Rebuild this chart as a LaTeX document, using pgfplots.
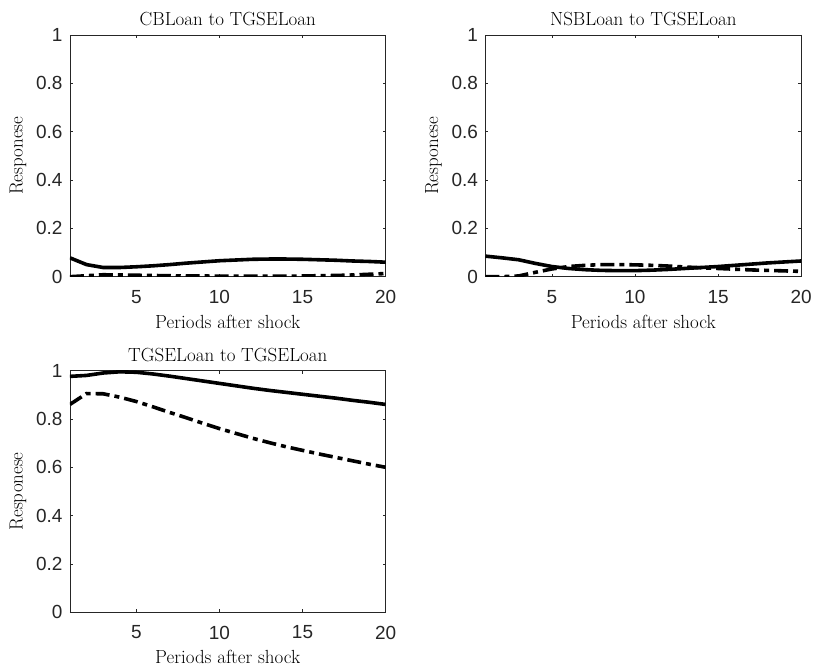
\documentclass[border=0pt]{standalone}
\usepackage{pgfplots}
\pgfplotsset{compat=1.18}
\usepackage{fontspec}
\newfontfamily\arial{Liberation Sans}
\definecolor{axgray}{RGB}{38,38,38}
\pgfplotsset{
  irf/.style={
    scale only axis, width=316pt, height=242pt, anchor=south west,
    xmin=1, xmax=20, ymin=0, ymax=1,
    xtick={5,10,15,20}, ytick={0,0.2,0.4,0.6,0.8,1},
    yticklabels={0,0.2,0.4,0.6,0.8,1},
    tick align=inside, major tick length=3pt,
    axis line style={axgray, line width=0.7pt},
    tick style={axgray, line width=0.6pt},
    /pgf/number format/assume math mode=true,
    tick label style={font=\arial\fontsize{19}{19}\selectfont, text=axgray},
    yticklabel style={xshift=-4pt},
    xticklabel style={yshift=-10pt},
    title style={font=\fontsize{19}{19}\selectfont, at={(rel axis cs:0.5,1)}, anchor=center, yshift=10pt},
    xlabel style={font=\fontsize{19}{19}\selectfont, at={(rel axis cs:0.5,0)}, anchor=center, yshift=-45pt},
    ylabel style={font=\fontsize{19}{19}\selectfont, at={(rel axis cs:0,0.5)}, anchor=center, yshift=52pt},
    xlabel={Periods after shock}, ylabel={Responese},
  },
  sol/.style={black, line width=3.6pt},
  dd/.style={black, line width=3.6pt, dash pattern=on 14pt off 5pt on 5pt off 5pt},
}
\begin{document}
\begin{tikzpicture}
\path (0pt,0pt) rectangle (815pt,666pt);
\begin{axis}[irf, at={(70pt,389pt)}, title={CBLoan to TGSELoan}]
\addplot[sol] coordinates {(1,0.078)(2,0.050)(3,0.038)(4,0.038)(5,0.041)(6,0.045)(7,0.050)(8,0.056)(9,0.061)(10,0.066)(11,0.069)(12,0.072)(13,0.073)(14,0.073)(15,0.072)(16,0.070)(17,0.068)(18,0.065)(19,0.063)(20,0.060)};
\addplot[dd] coordinates {(1,0.000)(2,0.004)(3,0.008)(4,0.007)(5,0.006)(6,0.005)(7,0.004)(8,0.003)(9,0.003)(10,0.002)(11,0.002)(12,0.002)(13,0.002)(14,0.002)(15,0.003)(16,0.004)(17,0.005)(18,0.007)(19,0.010)(20,0.013)};
\end{axis}
\begin{axis}[irf, at={(486pt,389pt)}, title={NSBLoan to TGSELoan}]
\addplot[sol] coordinates {(1,0.085)(2,0.078)(3,0.070)(4,0.055)(5,0.042)(6,0.034)(7,0.029)(8,0.026)(9,0.025)(10,0.025)(11,0.027)(12,0.030)(13,0.034)(14,0.038)(15,0.042)(16,0.047)(17,0.052)(18,0.057)(19,0.061)(20,0.065)};
\addplot[dd] coordinates {(1,0.000)(2,0.000)(3,0.003)(4,0.018)(5,0.032)(6,0.042)(7,0.047)(8,0.050)(9,0.050)(10,0.049)(11,0.047)(12,0.044)(13,0.040)(14,0.037)(15,0.034)(16,0.031)(17,0.028)(18,0.026)(19,0.024)(20,0.022)};
\end{axis}
\begin{axis}[irf, at={(70pt,53pt)}, title={TGSELoan to TGSELoan}]
\addplot[sol] coordinates {(1,0.976)(2,0.980)(3,0.990)(4,0.995)(5,0.993)(6,0.986)(7,0.977)(8,0.967)(9,0.957)(10,0.947)(11,0.937)(12,0.927)(13,0.918)(14,0.910)(15,0.902)(16,0.894)(17,0.886)(18,0.877)(19,0.869)(20,0.860)};
\addplot[dd] coordinates {(1,0.860)(2,0.905)(3,0.904)(4,0.890)(5,0.872)(6,0.850)(7,0.827)(8,0.805)(9,0.782)(10,0.760)(11,0.740)(12,0.720)(13,0.702)(14,0.685)(15,0.670)(16,0.655)(17,0.641)(18,0.627)(19,0.613)(20,0.600)};
\end{axis}
\end{tikzpicture}
\end{document}
